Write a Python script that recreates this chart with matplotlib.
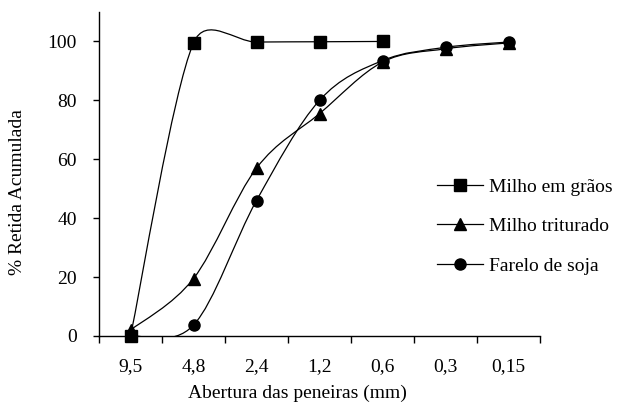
import numpy as np
import matplotlib
matplotlib.use('Agg')
import matplotlib.pyplot as plt
from matplotlib.path import Path
from matplotlib.patches import PathPatch
from matplotlib.lines import Line2D

plt.rcParams['font.family'] = ['Liberation Serif', 'DejaVu Serif']
plt.rcParams['font.size'] = 14

# Sieve openings (mm)
peneiras = ['9,5', '4,8', '2,4', '1,2', '0,6', '0,3', '0,15']

# % retained (cumulative)
milho_graos = [0, 99.5, 99.8, 99.9, 100.0]
milho_triturado = [2.0, 19.5, 57.0, 75.5, 93.0, 97.5, 99.5]
farelo_soja = [0, 3.7, 46.0, 80.0, 93.5, 98.0, 99.8]

fig = plt.figure(figsize=(6.23, 4.04), dpi=100)
ax = fig.add_axes([99 / 623, 68 / 404, 441 / 623, 324 / 404])
ax.set_xlim(-0.5, 6.5)
ax.set_ylim(0, 110)


def excel_smooth(xs, ys):
    # Excel-like smoothed line (Bezier), computed in pixel space
    pts = ax.transData.transform(np.column_stack([xs, ys]))
    n = len(pts)
    verts = [pts[0]]
    codes = [Path.MOVETO]
    f = 1.0 / 6.0
    for i in range(n - 1):
        p0 = pts[i - 1] if i > 0 else pts[i]
        p1 = pts[i]
        p2 = pts[i + 1]
        p3 = pts[i + 2] if i + 2 < n else pts[i + 1]
        d02 = np.hypot(*(p2 - p0))
        d12 = np.hypot(*(p2 - p1))
        d13 = np.hypot(*(p3 - p1))
        f1 = f if d02 / 6 < d12 / 2 else d12 / (2 * d02)
        f2 = f if d13 / 6 < d12 / 2 else d12 / (2 * d13)
        b1 = p1 + (p2 - p0) * f1
        b2 = p2 - (p3 - p1) * f2
        verts += [b1, b2, p2]
        codes += [Path.CURVE4] * 3
    verts = ax.transData.inverted().transform(np.array(verts))
    return Path(verts, codes)


series = [
    (milho_graos, 's', 'Milho em grãos', 8),
    (milho_triturado, '^', 'Milho triturado', 9),
    (farelo_soja, 'o', 'Farelo de soja', 8),
]

handles = []
for vals, mk, lab, ms in series:
    xs = np.arange(len(vals))
    patch = PathPatch(excel_smooth(xs, vals), facecolor='none',
                      edgecolor='black', lw=0.9)
    ax.add_patch(patch)
    ax.plot(xs, vals, ls='none', marker=mk, ms=ms, color='black',
            clip_on=False, zorder=5)
    handles.append(Line2D([], [], color='black', lw=0.9, marker=mk, ms=ms,
                          label=lab))

# axes styling
for s in ['top', 'right']:
    ax.spines[s].set_visible(False)
ax.spines['left'].set_linewidth(1.0)
ax.spines['bottom'].set_linewidth(1.0)

ax.set_yticks(range(0, 101, 20))
ax.tick_params(axis='y', direction='out', length=4, width=1, pad=12)
ax.set_xticks(np.arange(-0.5, 7, 1))
ax.set_xticklabels([])
ax.set_xticks(np.arange(7), minor=True)
ax.set_xticklabels(peneiras, minor=True)
ax.tick_params(axis='x', which='major', direction='out', length=5, width=1)
ax.tick_params(axis='x', which='minor', length=0, pad=16)

ax.set_xlabel('Abertura das peneiras (mm)', labelpad=0)
ax.xaxis.set_label_coords(0.45, -0.15)
ax.set_ylabel('% Retida Acumulada')
ax.yaxis.set_label_coords(-0.165, 0.444)

fig.legend(handles=handles, loc='upper left',
           bbox_to_anchor=(437 / 623, 1 - 178 / 404), frameon=False,
           handlelength=2.37, handletextpad=0.31, labelspacing=1.13,
           borderaxespad=0, borderpad=0, fontsize=14)

fig.savefig('out.png', dpi=100)
